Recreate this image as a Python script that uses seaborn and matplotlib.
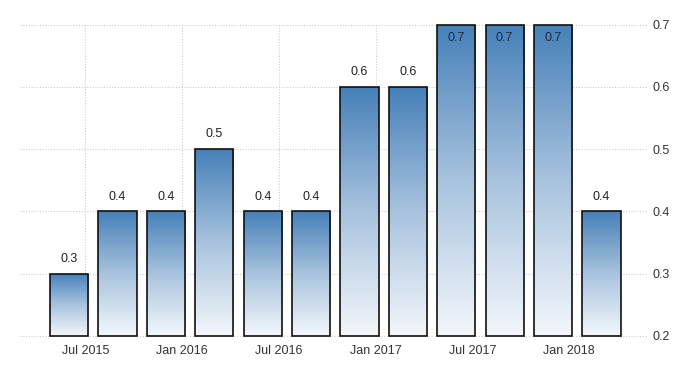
import numpy as np
import pandas as pd
import matplotlib
matplotlib.use("Agg")
import matplotlib.pyplot as plt
import seaborn as sns
from matplotlib.colors import LinearSegmentedColormap

# Data (quarterly values)
quarters = ["Q2 2015", "Q3 2015", "Q4 2015", "Q1 2016", "Q2 2016", "Q3 2016",
            "Q4 2016", "Q1 2017", "Q2 2017", "Q3 2017", "Q4 2017", "Q1 2018"]
values = [0.3, 0.4, 0.4, 0.5, 0.4, 0.4, 0.6, 0.6, 0.7, 0.7, 0.7, 0.4]
# months relative to Jul 2015 where each bar is centred
month_pos = [-1, 2, 5, 8, 11, 14, 17, 20, 23, 26, 29, 32]
tick_pos = [0, 6, 12, 18, 24, 30]
tick_labels = ["Jul 2015", "Jan 2016", "Jul 2016", "Jan 2017", "Jul 2017", "Jan 2018"]
y_ticks = [0.2, 0.3, 0.4, 0.5, 0.6, 0.7]

df = pd.DataFrame({"quarter": quarters, "x": month_pos, "value": values})

sns.set_theme(style="white")
plt.rcParams['font.family'] = ['Liberation Sans', 'DejaVu Sans']

fig = plt.figure(figsize=(7, 3.75), dpi=100)
ax = fig.add_axes([0.029, 0.101, 0.897, 0.838])

sns.barplot(data=df, x="x", y="value", native_scale=True, width=0.79,
            color="#4a84bb", ax=ax)

xlim = (-4.03, 34.9)
ylim = (0.2, 0.7)

cmap = LinearSegmentedColormap.from_list("g", ["#f3f7fb", "#a8c3de", "#4680b9"])
grad = np.linspace(0, 1, 256).reshape(-1, 1)
for p, v in zip(ax.patches, values):
    x0 = p.get_x()
    w = p.get_width()
    top = p.get_y() + p.get_height()
    # start bars at the visible baseline
    p.set_y(ylim[0])
    p.set_height(top - ylim[0])
    im = ax.imshow(grad, extent=[x0, x0 + w, ylim[0], top], origin="lower",
                   cmap=cmap, aspect="auto", zorder=2)
    im.set_clip_path(p)
    p.set_facecolor("none")
    p.set_edgecolor("#111111")
    p.set_linewidth(1.2)
    p.set_zorder(3)
    cx = x0 + w / 2
    if top >= ylim[1] - 1e-9:
        ax.text(cx, top - 0.012, f"{v:.1f}", ha="center", va="top",
                fontsize=9, color="#1c2b3f", zorder=4)
    else:
        ax.text(cx, top + 0.014, f"{v:.1f}", ha="center", va="bottom",
                fontsize=9, color="#222222", zorder=4)

ax.set_xlim(*xlim)
ax.set_ylim(ylim[0] - 0.002, ylim[1] + 0.003)

ax.set_xticks(tick_pos)
ax.set_xticklabels(tick_labels)
ax.set_yticks(y_ticks)
ax.set_yticklabels([f"{t:.1f}" for t in y_ticks])
ax.yaxis.tick_right()
ax.tick_params(axis="both", length=0, labelsize=9, colors="#333333")
ax.tick_params(axis="x", pad=6)
ax.tick_params(axis="y", pad=3)

ax.grid(True, axis="both", linestyle=(0, (1, 1.5)), color="#cfcfcf", linewidth=0.8)
ax.set_axisbelow(True)
for s in ax.spines.values():
    s.set_visible(False)
ax.set_xlabel("")
ax.set_ylabel("")

fig.savefig("out.png", dpi=100)
